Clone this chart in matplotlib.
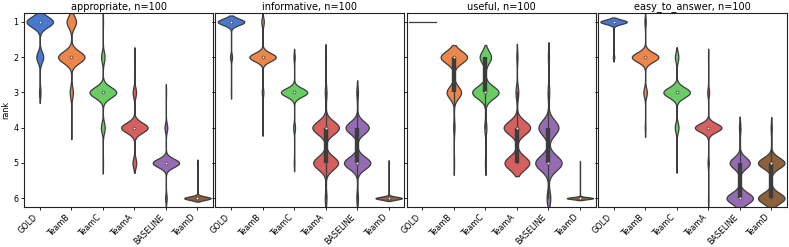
import numpy as np
import matplotlib
matplotlib.use("Agg")
import matplotlib.pyplot as plt

ranks = np.array([1, 2, 3, 4, 5, 6])
systems = ["GOLD", "TeamB", "TeamC", "TeamA", "BASELINE", "TeamD"]
colors = ["#4878d0", "#ee854a", "#6acc64", "#d65f5f", "#956cb4", "#8c613c"]
criteria = ["appropriate", "informative", "useful", "easy_to_answer"]

# number of the 100 questions that got rank 1..6, one row per system
appropriate = [
    [76, 20, 4, 0, 0, 0],
    [24, 67, 8, 1, 0, 0],
    [1, 10, 77, 11, 1, 0],
    [0, 1, 10, 78, 11, 0],
    [0, 0, 1, 9, 85, 5],
    [0, 0, 0, 0, 3, 97],
]
informative = [
    [92, 7, 1, 0, 0, 0],
    [8, 86, 5, 1, 0, 0],
    [0, 4, 88, 6, 2, 0],
    [0, 1, 3, 48, 45, 3],
    [0, 0, 3, 44, 50, 3],
    [0, 0, 0, 0, 2, 98],
]
useful = [
    [100, 0, 0, 0, 0, 0],
    [0, 62, 34, 3, 1, 0],
    [0, 28, 65, 5, 2, 0],
    [0, 2, 5, 48, 45, 0],
    [0, 2, 3, 38, 50, 7],
    [0, 0, 0, 0, 1, 99],
]
easy_to_answer = [
    [95, 5, 0, 0, 0, 0],
    [4, 83, 11, 2, 0, 0],
    [0, 10, 78, 11, 1, 0],
    [0, 1, 6, 88, 4, 1],
    [0, 0, 0, 3, 42, 55],
    [0, 0, 0, 2, 49, 49],
]
counts = [appropriate, informative, useful, easy_to_answer]

gray = "#3c3c3c"
lw = 0.9
bw_factor = 0.28
cut = 2
half = 0.42


def violin(ax, pos, vals, color):
    if np.unique(vals).size == 1:
        ax.plot([pos - half, pos + half], [vals[0], vals[0]], color=gray, lw=lw)
        return
    bw = bw_factor * vals.std(ddof=1)
    grid = np.linspace(vals.min() - cut * bw, vals.max() + cut * bw, 100)
    dens = np.exp(-0.5 * ((grid[:, None] - vals[None, :]) / bw) ** 2).sum(axis=1)
    dens = dens / dens.max() * half
    ax.fill_betweenx(grid, pos - dens, pos + dens, facecolor=color,
                     edgecolor=gray, linewidth=lw)
    q25, q50, q75 = np.percentile(vals, [25, 50, 75])
    iqr = q75 - q25
    h1 = vals[vals >= q25 - 1.5 * iqr].min()
    h2 = vals[vals <= q75 + 1.5 * iqr].max()
    ax.plot([pos, pos], [h1, h2], color=gray, lw=lw)
    ax.plot([pos, pos], [q25, q75], color=gray, lw=lw * 3.5, solid_capstyle="butt")
    ax.scatter(pos, q50, zorder=3, color="white", edgecolor=gray,
               s=(lw * 2.2) ** 2, linewidth=0.5)


fig, axes = plt.subplots(1, 4, figsize=(7.89, 2.47), dpi=100, sharey=True)
fig.subplots_adjust(left=24 / 789, right=787 / 789, top=1 - 13 / 247,
                    bottom=1 - 207 / 247, wspace=0.011)

for ax, name, table in zip(axes, criteria, counts):
    for i, row in enumerate(table):
        vals = np.repeat(ranks, row).astype(float)
        violin(ax, i, vals, colors[i])
    ax.set_title(f"{name}, n={sum(table[0])}", fontsize=7, pad=2.5)
    ax.set_xlim(-0.5, len(systems) - 0.5)
    ax.set_xticks(range(len(systems)))
    ax.set_xticklabels(systems, rotation=45, ha="right")
    ax.tick_params(labelsize=5.8, length=2.5, width=0.6, pad=1.5)
    for sp in ax.spines.values():
        sp.set_linewidth(0.8)
        sp.set_color("#222222")

axes[0].set_ylim(6.25, 0.75)
axes[0].set_yticks(ranks)
axes[0].set_ylabel("rank", fontsize=5.8, labelpad=2)

fig.savefig("out.png", dpi=100)
